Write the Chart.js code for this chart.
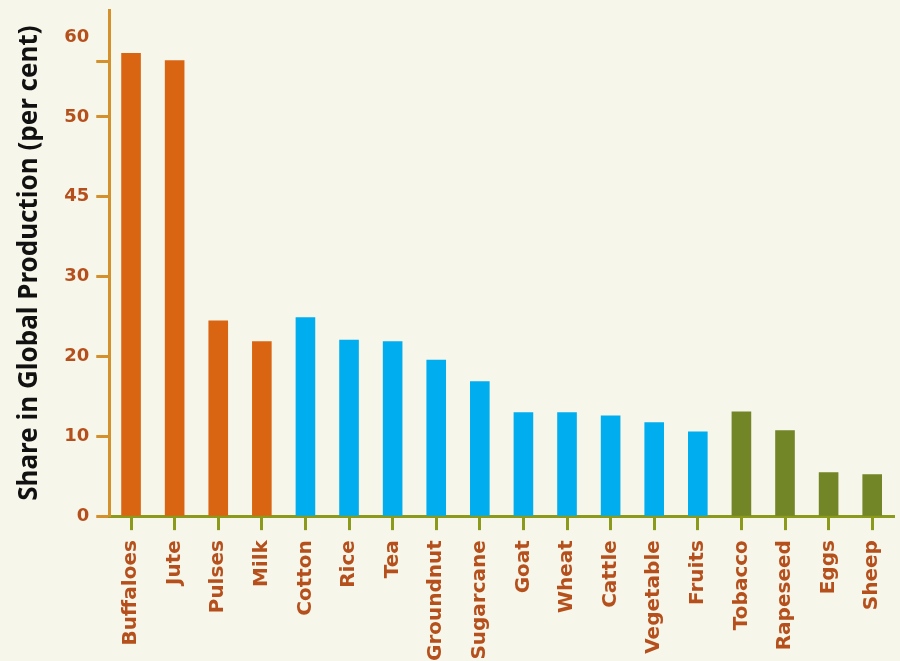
<!DOCTYPE html>
<html lang="en">
<head>
<meta charset="utf-8">
<title>Share in Global Production</title>
<script src="https://cdn.jsdelivr.net/npm/chart.js@4.4.1/dist/chart.umd.min.js"></script>
<style>
  html, body { margin: 0; padding: 0; background: #f7f6ea; }
  #wrap { width: 900px; height: 661px; position: relative; }
</style>
</head>
<body>
<div id="wrap"><canvas id="myChart"></canvas></div>
<script>
// categories and values
const items = ['Buffaloes', 'Jute', 'Pulses', 'Milk', 'Cotton', 'Rice', 'Tea', 'Groundnut', 'Sugarcane',
  'Goat', 'Wheat', 'Cattle', 'Vegetable', 'Fruits', 'Tobacco', 'Rapeseed', 'Eggs', 'Sheep'];
const shares = [58, 57.1, 24.5, 21.9, 24.9, 22.1, 21.9, 19.6, 16.9,
  13.0, 13.0, 12.6, 11.75, 10.6, 13.1, 10.75, 5.5, 5.25];
const groups = ['a', 'a', 'a', 'a', 'b', 'b', 'b', 'b', 'b', 'b', 'b', 'b', 'b', 'b', 'c', 'c', 'c', 'c'];

// y ticks as printed on the original axis (the 4th one reads 45,
// the top mark sits a bit under the unmarked 60 label)
const tickValues = [0, 10, 20, 30, 40, 50, 56.9, 60];
const tickLabels = ['0', '10', '20', '30', '45', '50', '', '60'];
const tickMarked = [true, true, true, true, true, true, true, false];

const groupColors = { a: '#d96512', b: '#00adee', c: '#728527' };
const labelColor = '#b5501c';

const bgPlugin = {
  id: 'bg',
  beforeDraw(chart) {
    const c = chart.ctx;
    c.save();
    c.fillStyle = '#f7f6ea';
    c.fillRect(0, 0, chart.width, chart.height);
    c.restore();
  }
};

const ctx = document.getElementById('myChart').getContext('2d');
new Chart(ctx, {
  type: 'bar',
  data: {
    labels: items,
    datasets: [{
      data: shares,
      backgroundColor: groups.map(g => groupColors[g]),
      barPercentage: 0.45,
      categoryPercentage: 1
    }]
  },
  options: {
    responsive: true,
    maintainAspectRatio: false,
    animation: false,
    layout: { padding: { top: 10, right: 6, left: 14, bottom: -10 } },
    plugins: {
      legend: { display: false },
      tooltip: { enabled: false }
    },
    scales: {
      x: {
        afterFit(axis) {
          axis.paddingRight = 0;
        },
        grid: {
          display: true,
          offset: false,
          drawOnChartArea: false,
          drawTicks: true,
          tickLength: 14,
          tickWidth: 3,
          tickColor: '#8c9a1c'
        },
        border: { color: '#8c9a1c', width: 3 },
        ticks: {
          color: labelColor,
          minRotation: 90,
          maxRotation: 90,
          padding: 10,
          font: { family: 'DejaVu Sans', weight: 'bold', size: 20 }
        }
      },
      y: {
        min: 0,
        max: 63.4,
        afterBuildTicks(axis) {
          axis.ticks = tickValues.map(v => ({ value: v }));
        },
        afterFit(axis) {
          axis.paddingTop = 0;
        },
        grid: {
          drawOnChartArea: false,
          drawTicks: true,
          tickLength: 13,
          tickWidth: 3,
          tickColor: function (c) {
            return tickMarked[c.index] ? '#d4902b' : 'rgba(0,0,0,0)';
          }
        },
        border: { color: '#d4902b', width: 3 },
        ticks: {
          color: labelColor,
          padding: 7,
          font: { family: 'DejaVu Sans', weight: 'bold', size: 18 },
          callback: function (value) {
            const i = tickValues.indexOf(value);
            return i >= 0 ? tickLabels[i] : '';
          }
        },
        title: {
          display: true,
          text: 'Share in Global Production (per cent)',
          color: '#111111',
          padding: { top: 0, bottom: 12 },
          font: { family: 'Noto Sans', weight: 'bold', size: 26 }
        }
      }
    }
  },
  plugins: [bgPlugin]
});
</script>
</body>
</html>
